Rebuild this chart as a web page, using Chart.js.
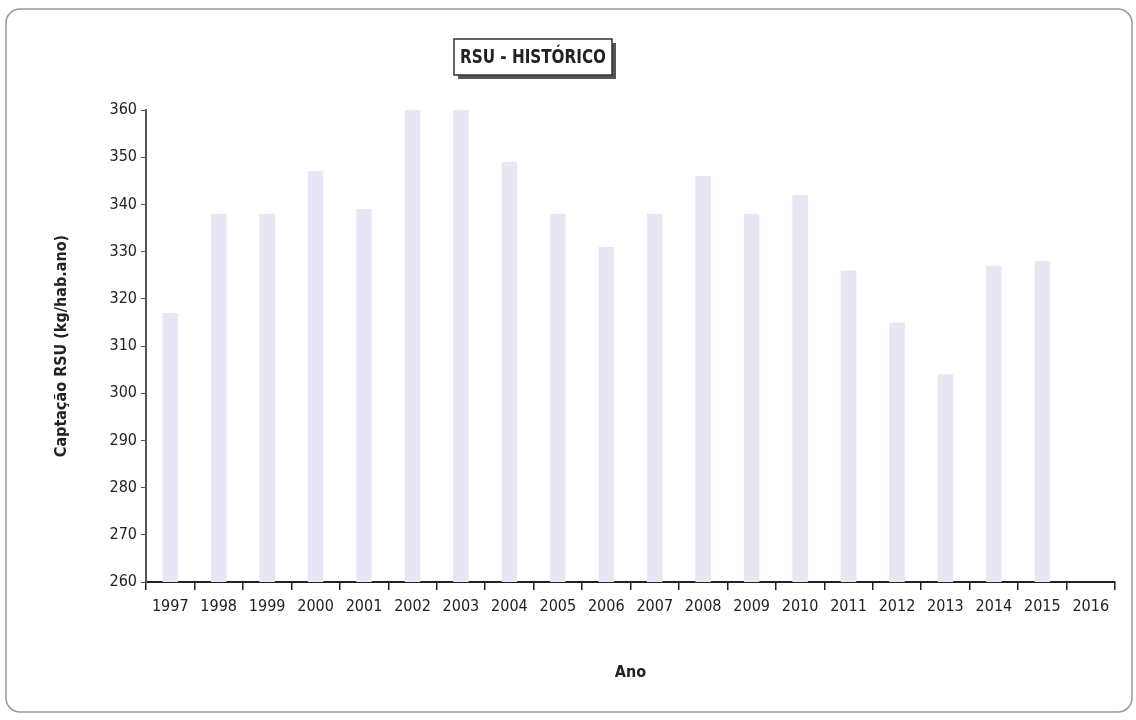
<!DOCTYPE html>
<html>
<head>
<meta charset="utf-8">
<script src="https://cdn.jsdelivr.net/npm/chart.js@4"></script>
<style>
  html, body { margin: 0; padding: 0; background: #fff; }
  canvas { display: block; }
</style>
</head>
<body>
<canvas id="chart" width="1136" height="720"></canvas>
<script>
var years = ['1997', '1998', '1999', '2000', '2001', '2002', '2003', '2004', '2005', '2006',
             '2007', '2008', '2009', '2010', '2011', '2012', '2013', '2014', '2015', '2016'];
var capitacao = [317, 338, 338, 347, 339, 360, 360, 349, 338, 331,
                 338, 346, 338, 342, 326, 315, 304, 327, 328, null];
var yTicks = [260, 270, 280, 290, 300, 310, 320, 330, 340, 350, 360];

var FONT = '"Liberation Sans Narrow", "DejaVu Sans Condensed", "Liberation Sans", sans-serif';

// rounded frame + boxed title like the scanned original
var decor = {
  id: 'decor',
  beforeDraw: function(chart) {
    var c = chart.ctx;
    c.save();
    c.fillStyle = '#fff';
    c.fillRect(0, 0, chart.width, chart.height);
    c.strokeStyle = '#9a9a9a';
    c.lineWidth = 1.5;
    c.beginPath();
    c.roundRect(6, 9, 1126, 703, 14);
    c.stroke();
    c.restore();
  },
  afterDraw: function(chart) {
    var c = chart.ctx;
    c.save();
    c.fillStyle = '#555';
    c.fillRect(458, 43, 158, 36);
    c.fillStyle = '#fff';
    c.fillRect(454, 39, 158, 36);
    c.strokeStyle = '#333';
    c.lineWidth = 1.5;
    c.strokeRect(454, 39, 158, 36);
    c.fillStyle = '#222';
    c.font = 'bold 20px ' + FONT;
    c.textAlign = 'center';
    c.textBaseline = 'middle';
    var txt = 'RSU - HISTÓRICO';
    var w = c.measureText(txt).width;
    var sx = Math.min(1, 146 / w);
    c.translate(533, 58);
    c.scale(sx, 1);
    c.fillText(txt, 0, 0);
    c.restore();
  }
};

var ctx = document.getElementById('chart').getContext('2d');
var chart = new Chart(ctx, {
  type: 'bar',
  data: {
    labels: years,
    datasets: [{
      label: 'Captação RSU',
      data: capitacao,
      backgroundColor: '#e6e6f5',
      borderWidth: 0,
      barPercentage: 0.32,
      categoryPercentage: 1
    }]
  },
  options: {
    responsive: false,
    animation: false,
    layout: { padding: { left: 40, right: 21, top: 110, bottom: 30 } },
    plugins: {
      legend: { display: false },
      tooltip: { enabled: false }
    },
    scales: {
      x: {
        afterFit: function(scale) { scale.height = 108; },
        grid: { drawOnChartArea: false, drawTicks: true, tickLength: 8, color: '#222', lineWidth: 1.5 },
        border: { color: '#222', width: 2 },
        ticks: { color: '#222', font: { family: FONT, size: 16 }, padding: 7, maxRotation: 0, autoSkip: false },
        title: { display: true, text: 'Ano', color: '#222', font: { family: FONT, size: 16, weight: 'bold' }, padding: { top: 8, bottom: 8 } }
      },
      y: {
        min: 260,
        max: 360,
        afterFit: function(scale) { scale.width = 106; },
        afterBuildTicks: function(scale) { scale.ticks = yTicks.map(function(v) { return { value: v }; }); },
        grid: { drawOnChartArea: false, drawTicks: true, tickLength: 5, color: '#555' },
        border: { color: '#555', width: 2 },
        ticks: { color: '#222', font: { family: FONT, size: 16 }, padding: 4 },
        title: { display: true, text: 'Captação RSU (kg/hab.ano)', color: '#222', font: { family: FONT, size: 16, weight: 'bold' }, padding: { top: 12, bottom: 0 } }
      }
    }
  },
  plugins: [decor]
});
</script>
</body>
</html>
